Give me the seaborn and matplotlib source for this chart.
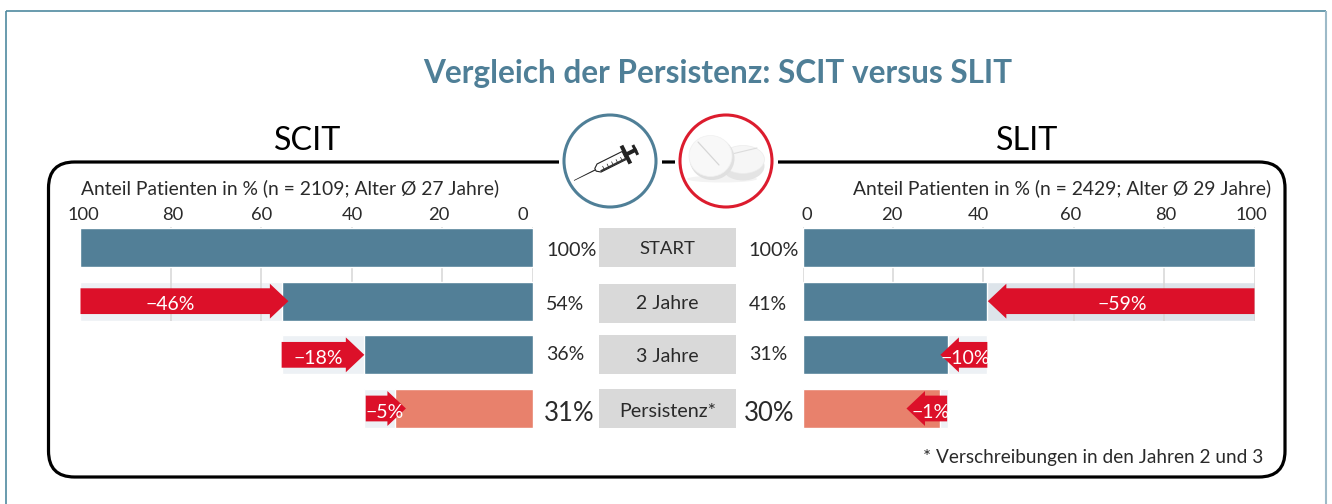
import numpy as np
import pandas as pd
import matplotlib
matplotlib.use("Agg")
import matplotlib.pyplot as plt
from matplotlib.patches import FancyBboxPatch, Rectangle, Circle, Ellipse, Polygon
from matplotlib.transforms import ScaledTranslation, Affine2D
import seaborn as sns

# ---------- data ----------
stages = ["START", "2 Jahre", "3 Jahre", "Persistenz*"]
scit_bars = [100, 55.5, 37.2, 30.5]
slit_bars = [100, 40.9, 32.3, 30.5]
scit_prev = [100, 100, 55.5, 37.2]
slit_prev = [100, 100, 40.9, 32.3]
scit_labels = ["100%", "54%", "36%", "31%"]
slit_labels = ["100%", "41%", "31%", "30%"]
scit_drop_labels = ["−46%", "−18%", "−5%"]
slit_drop_labels = ["−59%", "−10%", "−1%"]
scit_arrow_tail = [100, 55.5, 36.9]
scit_arrow_tip = [54, 37.2, 28]
slit_arrow_tail = [100, 40.9, 32.0]
slit_arrow_tip = [41, 30.5, 23]
ticks = [100, 80, 60, 40, 20, 0]
title = "Vergleich der Persistenz: SCIT versus SLIT"
scit_caption = "Anteil Patienten in % (n = 2109; Alter Ø 27 Jahre)"
slit_caption = "Anteil Patienten in % (n = 2429; Alter Ø 29 Jahre)"
footnote = "* Verschreibungen in den Jahren 2 und 3"

TEAL = "#527f97"
SALMON = "#e8816c"
RED = "#dc1029"
PALE = "#edf1f5"
PALE2 = "#dde4ea"
GRID = "#d6d6d6"
INK = "#2a2a2a"
BORDER = "#4f8a9f"

sns.set_theme(style="white")
plt.rcParams["font.family"] = ["Lato", "DejaVu Sans"]

W, H = 1332, 504
fig = plt.figure(figsize=(W / 100, H / 100), dpi=100, facecolor="white")

# pixel-space overlay for frame, headings, icons
ov = fig.add_axes([0, 0, 1, 1], zorder=0)
ov.set_xlim(0, W)
ov.set_ylim(H, 0)
ov.axis("off")

# outer border
ov.plot([6, 6], [504, 10.5], color=BORDER, lw=1.2, solid_capstyle="butt")
ov.plot([6, 1326], [10.5, 10.5], color=BORDER, lw=1.2, solid_capstyle="butt")
ov.plot([1326, 1326], [10.5, 504], color="#9dbac8", lw=1.5, solid_capstyle="butt")

# rounded frame
ov.add_patch(FancyBboxPatch((48.5 + 26, 162 + 26), 1236.5 - 52, 315 - 52,
                            boxstyle="round,pad=26,rounding_size=26",
                            fc="none", ec="black", lw=2.3, zorder=1))
ov.add_patch(Rectangle((559, 150), 103, 24, fc="white", ec="none", zorder=2))
ov.add_patch(Rectangle((675, 150), 103, 24, fc="white", ec="none", zorder=2))

ov.text(717.5, 73, title, ha="center", va="center", fontsize=22.7,
        fontweight="bold", color="#4f7f97", zorder=5)
ov.text(308, 141, "SCIT", ha="center", va="center", fontsize=23.2, color="black")
ov.text(1027.5, 141, "SLIT", ha="center", va="center", fontsize=23.2, color="black")
ov.text(81, 188.5, scit_caption, ha="left", va="center", fontsize=13.9, color=INK)
ov.text(1271, 188.5, slit_caption, ha="right", va="center", fontsize=13.9, color=INK)
ov.text(1263, 457.5, footnote, ha="right", va="center", fontsize=13.7, color=INK)

# central column
box_tops = [228, 284, 335, 389]
stage_y = [248.5, 303.5, 356.5, 411.5]
stage_size = [13.3, 14, 14, 14.2]
for t, y, s, fs in zip(box_tops, stage_y, stages, stage_size):
    ov.add_patch(Rectangle((599, t), 137, 39, fc="#d9d9d9", ec="none"))
    ov.text(667.5, y, s, ha="center", va="center", fontsize=fs, color=INK)
label_y = [251, 304, 354, 413.5]
left_x = [546, 546, 546, 544]
right_x = [748, 749, 749, 744]
sizes = [14.3, 14, 14, 18.5]
for i in range(4):
    ov.text(left_x[i], label_y[i], scit_labels[i], ha="left", va="center",
            fontsize=sizes[i], color=INK)
    ov.text(right_x[i], label_y[i], slit_labels[i], ha="left", va="center",
            fontsize=sizes[i], color=INK)

# syringe icon
ov.add_patch(Circle((610, 161), 46, fc="white", ec="#4f7f97", lw=2.2, zorder=3))
rot = Affine2D().rotate_deg(-26.5).translate(574, 180.5) + ov.transData
def syr(pts, **kw):
    ov.add_patch(Polygon(pts, closed=True, transform=rot, zorder=4, **kw))
syr([(0, -.35), (24, -.6), (24, .6), (0, .35)], fc="#222222", ec="none")
syr([(24, -1.5), (28, -4.5), (56, -4.5), (56, 4.5), (28, 4.5), (24, 1.5)], fc="white", ec="#222222", lw=.8)
syr([(28, 2.6), (56, 2.6), (56, 4.5), (28, 4.5)], fc="#333333", ec="none")
for t in np.arange(32, 55, 5):
    ov.plot([t, t], [0, 3], color="#222222", lw=.5, transform=rot, zorder=5)
syr([(56, -2), (70, -2), (70, 2), (56, 2)], fc="#222222", ec="none")
syr([(56, -10), (60, -10), (60, 10), (56, 10)], fc="#222222", ec="none")
syr([(67, -5.5), (70, -5.5), (70, 5.5), (67, 5.5)], fc="#222222", ec="none")

# tablets icon
ov.add_patch(Circle((726, 161), 46, fc="white", ec="#dc1c2e", lw=2.2, zorder=3))
ov.add_patch(Ellipse((722, 179), 70, 7, fc="#eeeeee", ec="none", zorder=3.5, alpha=.7))
ov.add_patch(Ellipse((743, 166), 43, 29, fc="#e4e4e4", ec="none", zorder=4))
ov.add_patch(Ellipse((743, 159.5), 43, 28, fc="#f6f6f6", ec="#ececec", lw=.5, zorder=4.1))
ov.plot([734, 757], [153.5, 148], color="#dcdcdc", lw=.8, zorder=4.2)
ov.add_patch(Ellipse((712, 158.5), 45, 43, fc="#e0e0e0", ec="none", zorder=4.3))
ov.add_patch(Ellipse((710.5, 156), 43, 41, fc="#f8f8f8", ec="#f0f0f0", lw=.5, zorder=4.4))
ov.plot([698, 719], [142, 165], color="#d6d6d6", lw=.9, zorder=4.5)


def panel(x0, x1, xlim, bars, prev, pale_row, tails, tips, drops, tick_dx, side):
    top, bottom = 247.5 - 26.83, 408.5 + 26.83
    ax = fig.add_axes([x0 / W, 1 - bottom / H, (x1 - x0) / W, (bottom - top) / H], zorder=2)
    ax.patch.set_alpha(0)
    df = pd.DataFrame({"stage": stages, "value": bars, "prev": prev})
    ghost = [PALE, pale_row, PALE, PALE]
    sns.barplot(data=df, y="stage", x="prev", hue="stage", palette=ghost, dodge=False,
                legend=False, width=.727, saturation=1, ax=ax, zorder=1, orient="h")
    sns.barplot(data=df, y="stage", x="value", hue="stage",
                palette=[TEAL, TEAL, TEAL, SALMON], dodge=False, legend=False,
                width=.727, saturation=1, ax=ax, zorder=2, orient="h")
    ax.set_xlim(*xlim)
    ax.set_ylim(3.5, -0.5)
    ax.set_xlabel("")
    ax.set_ylabel("")
    ax.set_yticks([])
    for sp in ax.spines.values():
        sp.set_visible(False)
    ax.vlines(ticks, -0.39, 1.365, color=GRID, lw=1.1, zorder=1.5)
    ax.xaxis.tick_top()
    ax.set_xticks(ticks)
    ax.set_xticklabels([str(t) for t in ticks], fontsize=13.2, color=INK)
    ax.tick_params(axis="x", length=0, pad=-1.5)
    for lab, t, dx in zip(ax.get_xticklabels(), ticks, tick_dx):
        lab.set_transform(lab.get_transform() + ScaledTranslation(dx / 100, 0, fig.dpi_scale_trans))
    hl = 4.1
    for i, (a, b, txt) in enumerate(zip(tails, tips, drops)):
        y = i + 1
        d = 1 if b < a else -1
        base = b + hl * d
        ax.fill([a, base, base, b, base, base, a],
                [y - .24, y - .24, y - .325, y, y + .325, y + .24, y + .24],
                color=RED, lw=0, zorder=3, clip_on=False)
        ax.text((side[i]), y + .07, txt, color="white", ha="center", va="center",
                fontsize=14, zorder=4)
    return ax


panel(80.5, 532.5, (100, 0), scit_bars, scit_prev, PALE, scit_arrow_tail, scit_arrow_tip,
      scit_drop_labels, [3, 1.6, .7, .3, -3.4, -10], [80.2, 47.5, 32.7])
panel(802.5, 1254.5, (0, 100), slit_bars, slit_prev, PALE2, slit_arrow_tail, slit_arrow_tip,
      slit_drop_labels, [-3, 1.5, -3, -5, -1, 4.5], [70.8, 36, 28.3])

fig.savefig("out.png", dpi=100, facecolor="white")
